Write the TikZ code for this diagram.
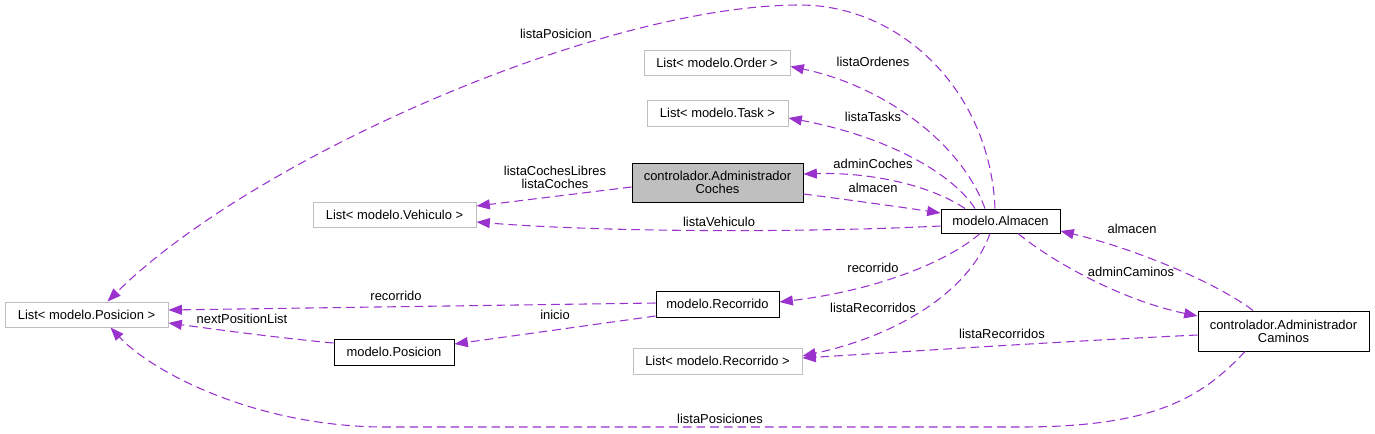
\documentclass[tikz,border=0pt]{standalone}
\usepackage{fontspec}
\setmainfont{Liberation Sans}
\usetikzlibrary{calc,arrows.meta}
\definecolor{edgec}{HTML}{9A32CD}
\definecolor{lgray}{HTML}{BFBFBF}
\definecolor{cfill}{HTML}{BFBFBF}
\begin{document}
\begin{tikzpicture}[x=0.75pt,y=-0.75pt,
  font=\fontsize{9.7}{9.75}\selectfont,
  cls/.style={draw=black, line width=0.75pt, fill=white, inner sep=0pt, align=center},
  lst/.style={draw=lgray, line width=0.75pt, fill=white, inner sep=0pt, align=center},
  edge/.style={draw=edgec, line width=0.8pt, dash pattern=on 6.5pt off 3.75pt,
    -{Triangle[length=10pt,width=7.5pt]}},
  lbl/.style={inner sep=0pt, align=center}]
\useasboundingbox (0,0) rectangle (1375,433);

% nodes
\node[lst, minimum width=163*0.75pt, minimum height=25*0.75pt] (LPos) at (86.5,314.5) {List< modelo.Posicion >};
\node[lst, minimum width=146*0.75pt, minimum height=25*0.75pt] (LOrd) at (717,62.5) {List< modelo.Order >};
\node[lst, minimum width=141*0.75pt, minimum height=26*0.75pt] (LTask) at (717.5,113) {List< modelo.Task >};
\node[cls, fill=cfill, minimum width=171*0.75pt, minimum height=39*0.75pt] (ACoches) at (717.5,182.5) {controlador.Administrador\\Coches};
\node[lst, minimum width=163*0.75pt, minimum height=25*0.75pt] (LVeh) at (394.5,214.5) {List< modelo.Vehiculo >};
\node[cls, minimum width=119*0.75pt, minimum height=24*0.75pt] (Alm) at (1000.5,221) {modelo.Almacen};
\node[cls, minimum width=171*0.75pt, minimum height=40*0.75pt] (ACam) at (1283.5,331) {controlador.Administrador\\Caminos};
\node[cls, minimum width=123*0.75pt, minimum height=26*0.75pt] (Rec) at (717.5,304) {modelo.Recorrido};
\node[lst, minimum width=169*0.75pt, minimum height=26*0.75pt] (LRec) at (717.5,361) {List< modelo.Recorrido >};
\node[cls, minimum width=120*0.75pt, minimum height=26*0.75pt] (Pos) at (394,352) {modelo.Posicion};

% edges
\draw[edge] ($(Alm.north)+(-5.5,0)$) .. controls (990,90) and (900,5) .. (800,5)
  .. controls (600,5) and (250,160) .. ($(LPos.north)+(21,0)$);
\draw[edge] ($(Alm.north)+(-15.5,0)$) .. controls (960,140) and (880,85) .. ($(LOrd.east)+(0,4)$);
\draw[edge] ($(Alm.north)+(-25.5,0)$) .. controls (950,170) and (880,135) .. ($(LTask.east)+(0,5)$);
\draw[edge] ($(Alm.north)+(-35.5,0)$) .. controls (930,185) and (870,172) .. ($(ACoches.east)+(0,-8.5)$);
\draw[edge] ($(ACoches.east)+(0,11.5)$) .. controls (850,200) and (900,207) .. ($(Alm.west)+(0,-8)$);
\draw[edge] ($(ACoches.west)+(0,4.5)$) -- ($(LVeh.east)+(0,-8.5)$);
\draw[edge] ($(Alm.west)+(0,5)$) .. controls (800,233) and (600,232) .. ($(LVeh.east)+(0,7.5)$);
\draw[edge] ($(Alm.south)+(-20.5,0)$) .. controls (950,260) and (880,290) .. ($(Rec.east)+(0,-2)$);
\draw[edge] ($(Alm.south)+(-10.5,0)$) .. controls (970,290) and (900,335) .. ($(LRec.east)+(0,-5)$);
\draw[edge] ($(Alm.south)+(17.5,0)$) .. controls (1050,260) and (1120,300) .. ($(ACam.west)+(0,-15)$);
\draw[edge] ($(ACam.north)+(-30.5,0)$) .. controls (1220,285) and (1140,250) .. ($(Alm.east)+(0,10)$);
\draw[edge] ($(ACam.west)+(0,4)$) .. controls (1050,342) and (900,352) .. ($(LRec.east)+(0,-3)$);
\draw[edge] ($(ACam.south)+(-38.5,0)$) .. controls (1200,400) and (1150,427) .. (1020,427)
  -- (380,427) .. controls (250,425) and (150,370) .. ($(LPos.south)+(24,0)$);
\draw[edge] ($(Rec.west)+(0,-1)$) -- ($(LPos.east)+(0,-4.5)$);
\draw[edge] ($(Rec.west)+(0,12)$) -- ($(Pos.east)+(0,-8)$);
\draw[edge] ($(Pos.west)+(0,-9)$) .. controls (280,338) and (220,330) .. ($(LPos.east)+(0,8.5)$);

% labels
\node[lbl] (l1) at (556,34) {listaPosicion};
\node[lbl] (l2) at (873,62) {listaOrdenes};
\node[lbl] (l3) at (873,117) {listaTasks};
\node[lbl] (l4) at (873,164) {adminCoches};
\node[lbl] (l5) at (873,188) {almacen};
\node[lbl] (l6) at (555,177.5) {listaCochesLibres\\listaCoches};
\node[lbl] (l7) at (719,222) {listaVehiculo};
\node[lbl] (l8) at (873,268) {recorrido};
\node[lbl] (l9) at (873,308) {listaRecorridos};
\node[lbl] (l10) at (1131,272) {adminCaminos};
\node[lbl] (l11) at (1132,229) {almacen};
\node[lbl] (l12) at (1002,334) {listaRecorridos};
\node[lbl] (l13) at (720,419) {listaPosiciones};
\node[lbl] (l14) at (396,296) {recorrido};
\node[lbl] (l15) at (555,315) {inicio};
\node[lbl] (l16) at (242,319) {nextPositionList};
\end{tikzpicture}
\end{document}
